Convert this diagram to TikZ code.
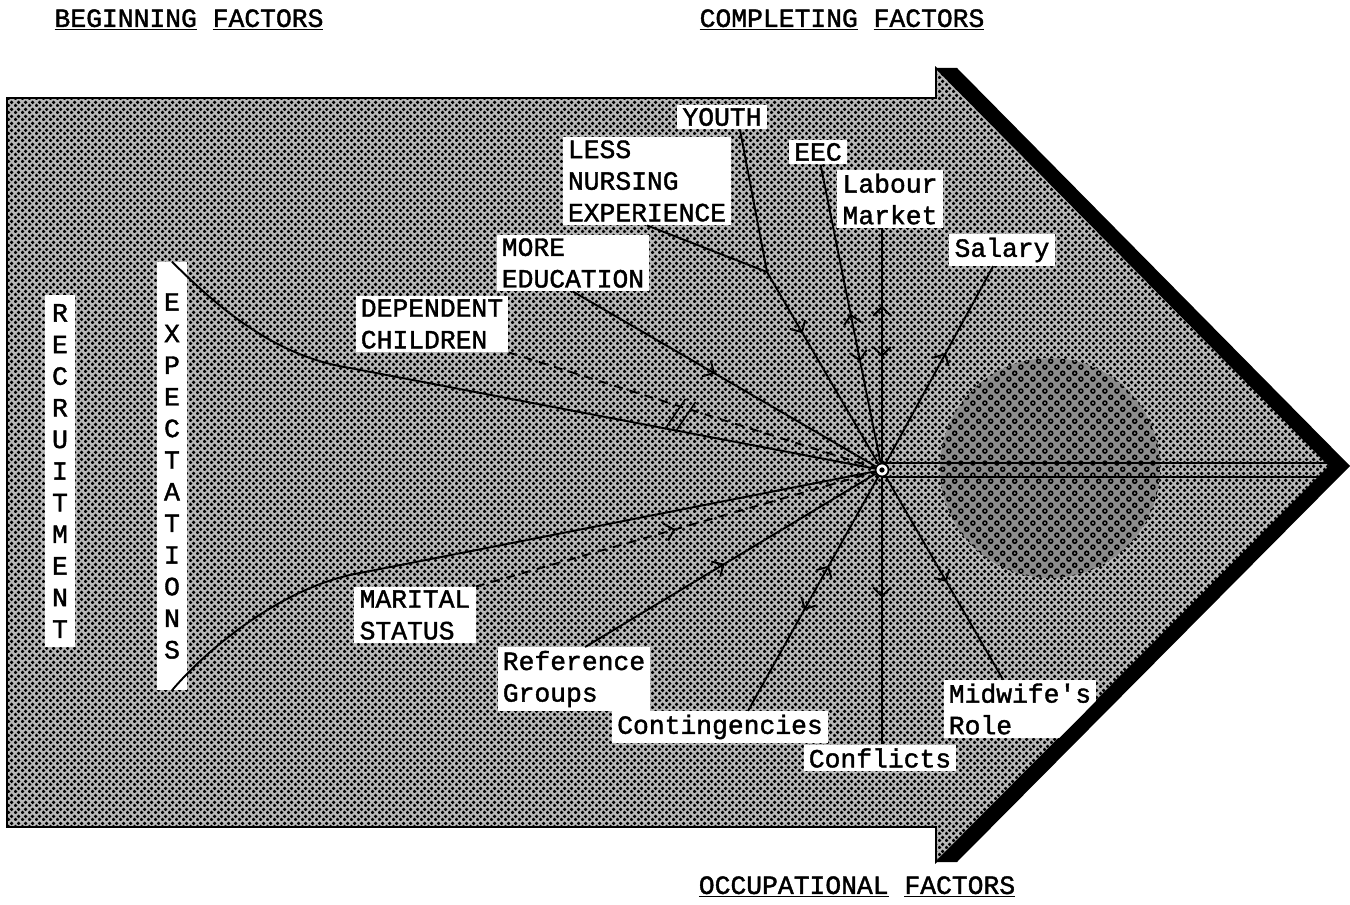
\documentclass[tikz,border=0pt]{standalone}
\usepackage{fontspec}
\newfontfamily\lblfont[FakeBold=1.5]{Liberation Mono}
\usetikzlibrary{arrows.meta,decorations.markings,patterns}

% halftone dots of the arrow
\pgfdeclarepatternformonly{halftone}{\pgfqpoint{0pt}{0pt}}{\pgfqpoint{4pt}{4pt}}{\pgfqpoint{4pt}{4pt}}{%
  \pgfpathcircle{\pgfqpoint{1pt}{1pt}}{1.2pt}%
  \pgfpathcircle{\pgfqpoint{3pt}{3pt}}{1.2pt}%
  \pgfusepath{fill}}
% small rings of the disc
\pgfdeclarepatternformonly{rings}{\pgfqpoint{0pt}{0pt}}{\pgfqpoint{7pt}{7pt}}{\pgfqpoint{7pt}{7pt}}{%
  \pgfsetlinewidth{0.9pt}%
  \pgfpathcircle{\pgfqpoint{1.75pt}{1.75pt}}{1.2pt}%
  \pgfpathcircle{\pgfqpoint{5.25pt}{5.25pt}}{1.2pt}%
  \pgfusepath{stroke}}

\tikzset{
  barb/.tip={Straight Barb[length=5pt,width=10pt]},
  link/.style={line width=1.1pt},
  dlink/.style={link, dash pattern=on 5pt off 4pt},
  lbl/.style={fill=white, font={\lblfont\fontsize{15pt}{18pt}\selectfont}, inner xsep=3pt, inner ysep=2pt, align=left},
  vlbl/.style={lbl, align=center, inner xsep=4pt},
  title/.style={font={\lblfont\fontsize{15pt}{18pt}\selectfont}, inner sep=0pt},
  tipin/.style={postaction={decorate,decoration={markings,mark=at position #1 with {\arrow{barb}}}}},
  tipout/.style={postaction={decorate,decoration={markings,mark=at position #1 with {\arrowreversed{barb}}}}},
  cutmark/.style={postaction={decorate,decoration={markings,mark=at position #1 with
    {\draw[solid,line width=0.9pt] (-7pt,-15pt) -- (-1pt,5pt) (-1pt,-15pt) -- (5pt,5pt);}}}}
}

\begin{document}
\begin{tikzpicture}[x=0.02cm,y=-0.02cm]
  \useasboundingbox (0,0) rectangle (1350,905);

  % the big arrow
  \fill[black!28] (7,98) -- (936,98) -- (936,68) -- (1330,466)
    -- (936,862) -- (936,827) -- (7,827) -- cycle;
  \draw[pattern=halftone, line width=0.9pt] (7,98) -- (936,98) -- (936,68) -- (1330,466)
    -- (936,862) -- (936,827) -- (7,827) -- cycle;
  \fill[black!45] (1050,468) circle[radius=2.2cm];
  \fill[pattern=rings] (1050,468) circle[radius=2.2cm];

  % hub and shaft to the tip
  \node[circle, draw, fill=white, line width=1pt, minimum size=0.26cm, inner sep=0pt] (hub) at (882,470) {};
  \fill (hub) circle (1.5pt);
  \coordinate (tip) at (1333,470);
  \draw[link] (hub.north) -- (hub.north -| tip);
  \draw[link] (hub.south) -- (hub.south -| tip);

  % headings
  \node[title] (begin) at (189,20) {\underline{BEGINNING} \underline{FACTORS}};
  \node[title] (compl) at (842,20) {\underline{COMPLETING} \underline{FACTORS}};
  \node[title] (occup) at (857,887) {\underline{OCCUPATIONAL} \underline{FACTORS}};

  % vertical labels
  \node[vlbl, minimum height=7.06cm] (recruit) at (60,471) {R\\E\\C\\R\\U\\I\\T\\M\\E\\N\\T};
  \node[vlbl, minimum height=8.56cm] (expect) at (172,476) {E\\X\\P\\E\\C\\T\\A\\T\\I\\O\\N\\S};

  % factor labels
  \node[lbl] (youth) at (722,117) {YOUTH};
  \node[lbl] (lessexp) at (647,181) {LESS\\NURSING\\EXPERIENCE};
  \node[lbl] (eec) at (818,152) {EEC};
  \node[lbl] (labour) at (890,199) {Labour\\Market};
  \node[lbl] (salary) at (1002,250) {Salary};
  \node[lbl] (moreedu) at (573,263) {MORE\\EDUCATION};
  \node[lbl] (depchild) at (432,324) {DEPENDENT\\CHILDREN};
  \node[lbl] (marital) at (415,615) {MARITAL\\STATUS};
  \node[lbl] (refgroups) at (574,679) {Reference\\Groups};
  \node[lbl] (conting) at (720,727) {Contingencies};
  \node[lbl] (conflicts) at (880,758) {Conflicts};
  \node[lbl] (midwife) at (1020,709) {Midwife\textquotesingle s\\Role};

  % heavy edge of the head
  \fill (936,68) -- (957,68) -- (1350,466) -- (1330,466) -- cycle;
  \fill (1330,466) -- (1350,466) -- (957,862) -- (936,862) -- cycle;

  % beginning factors
  \draw[link] (expect.north) .. controls (225,315) and (280,357) .. (350,368) -- (hub);
  \draw[link] (expect.south) .. controls (215,640) and (290,585) .. (360,573) -- (hub);
  \draw[dlink, cutmark=0.48] (depchild.south east) -- (hub);
  \draw[dlink, tipin=0.5] (marital.north east) -- (hub);

  % completing factors
  \coordinate (yj) at (767,272);
  \draw[link] ([xshift=0.36cm]youth.south) -- (yj);
  \draw[link] (lessexp.south) -- (yj);
  \draw[link, tipin=0.32] (yj) -- (hub);
  \draw[link, tipout=0.5, tipin=0.66] (eec) -- (hub);
  \draw[link, tipout=0.33, tipin=0.55] (labour.south -| hub) -- (hub);
  \draw[link, tipin=0.47] (moreedu.south) -- (hub);
  \draw[link, tipout=0.44] (salary) -- (hub);

  % occupational factors
  \draw[link, tipin=0.48] ([xshift=0.22cm]refgroups.north) -- (hub);
  \draw[link, tipout=0.43, tipin=0.62] ([xshift=0.56cm]conting.north) -- (hub);
  \draw[link, tipout=0.55] (conflicts.north -| hub) -- (hub);
  \draw[link, tipout=0.48] (midwife) -- (hub);
\end{tikzpicture}
\end{document}
